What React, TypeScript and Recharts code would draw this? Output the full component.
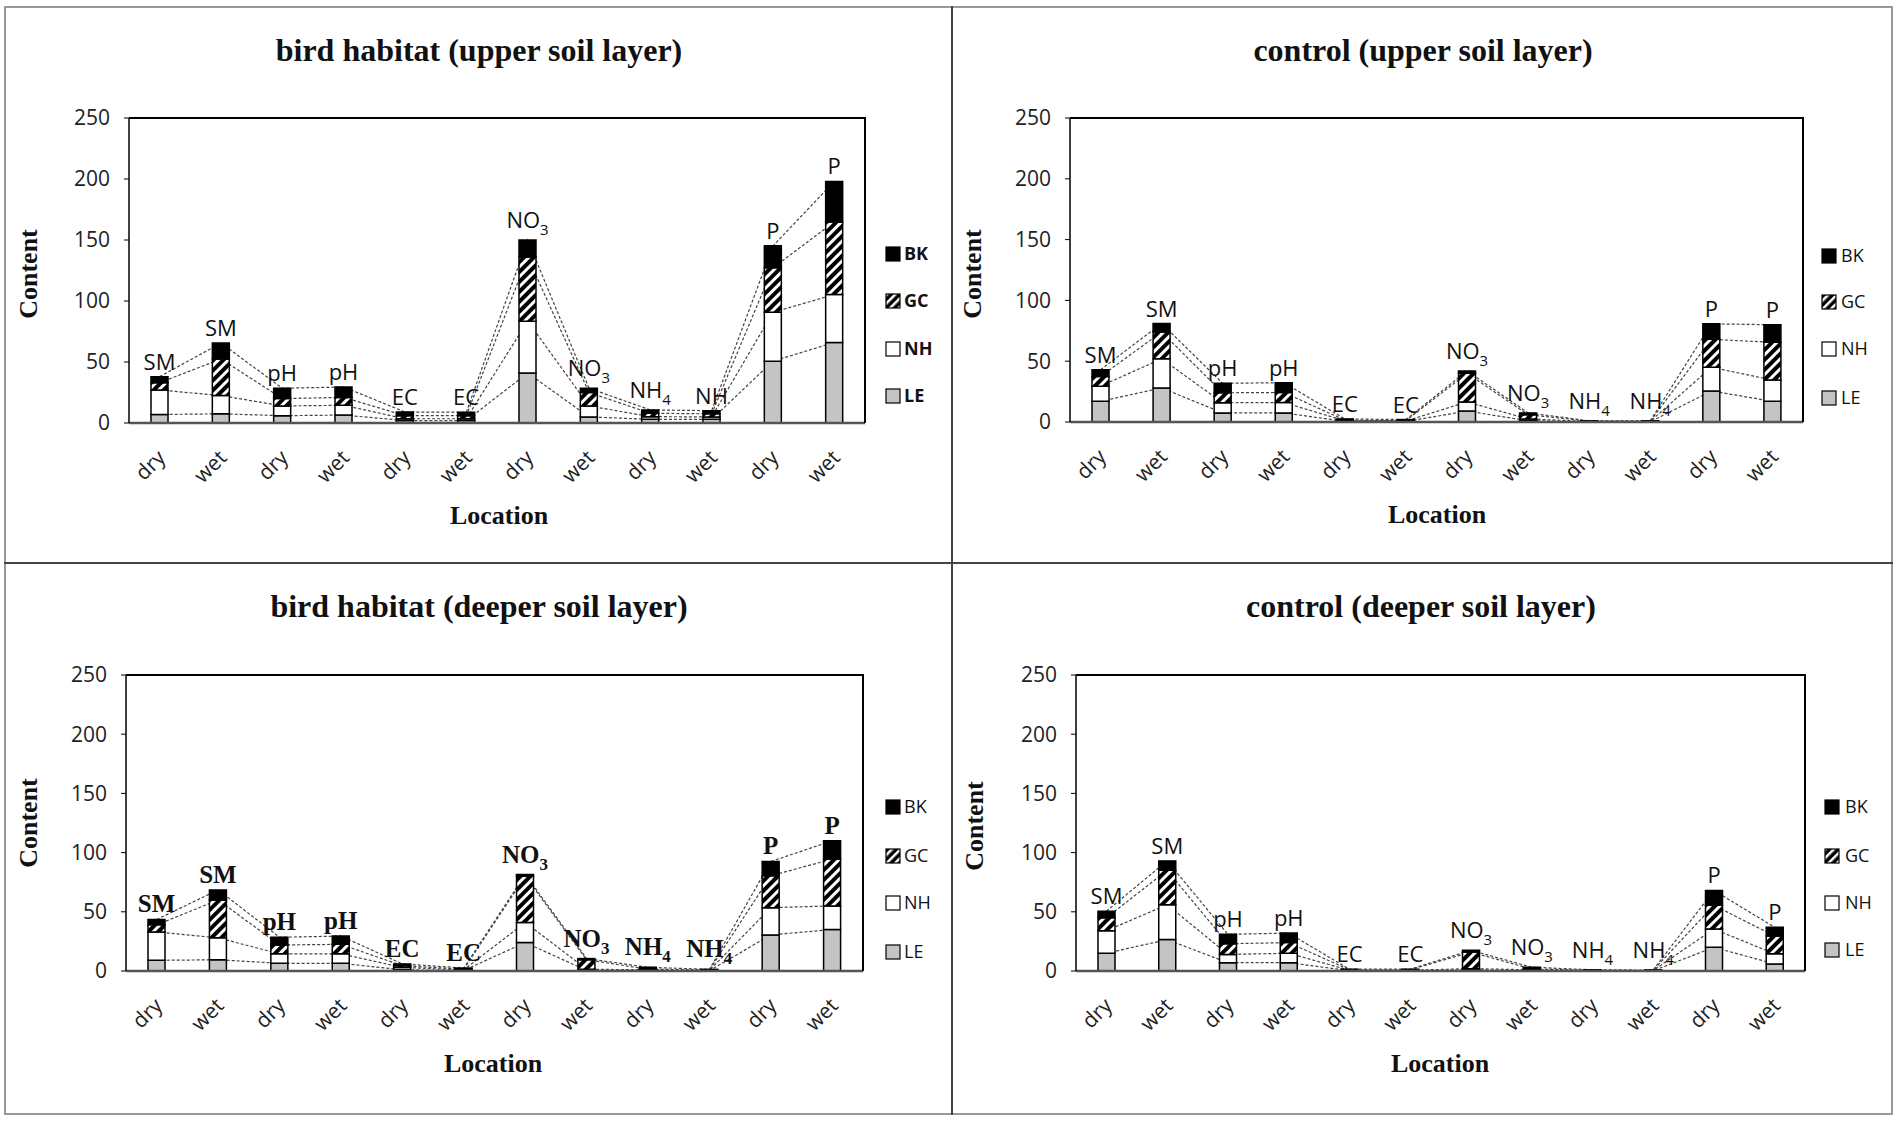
import React from 'react';
import { ComposedChart, Bar, Line, XAxis, YAxis, LabelList } from 'recharts';

// categories along the x axis
const conditions = ['dry', 'wet', 'dry', 'wet', 'dry', 'wet', 'dry', 'wet', 'dry', 'wet', 'dry', 'wet'];
const yTicks = [0, 50, 100, 150, 200, 250];
const seriesNames = ['BK', 'GC', 'NH', 'LE'];

// bird habitat (upper soil layer)
const labelsBU = ['SM', 'SM', 'pH', 'pH', 'EC', 'EC', 'NO3', 'NO3', 'NH4', 'NH', 'P', 'P'];
const leBU = [7, 7.5, 6, 6.5, 2, 2, 41, 5, 3, 3, 50.7, 66];
const nhBU = [20, 15, 8, 8, 1.5, 1.5, 42.5, 9, 2.2, 2, 40, 39.3];
const gcBU = [6, 30, 6, 6.5, 2.5, 2.5, 52.5, 11, 2.8, 2.5, 36.5, 59.5];
const bkBU = [5, 13, 8.5, 8.5, 3, 2.8, 14, 3.5, 2.7, 2.6, 18, 33.2];

// control (upper soil layer)
const labelsCU = ['SM', 'SM', 'pH', 'pH', 'EC', 'EC', 'NO3', 'NO3', 'NH4', 'NH4', 'P', 'P'];
const leCU = [17, 28, 7.5, 7.5, 0.5, 0.4, 9, 1, 0.2, 0.2, 25.5, 17];
const nhCU = [12.5, 24, 8.3, 8.5, 0.5, 0.4, 7.5, 1.5, 0.3, 0.3, 19.5, 17.5];
const gcCU = [8, 22, 8.2, 8.3, 0.5, 0.4, 23.5, 3.5, 0.2, 0.2, 23, 31];
const bkCU = [5.5, 7, 7.8, 8, 1, 0.8, 2, 1.5, 0.3, 0.3, 12.7, 14.5];

// bird habitat (deeper soil layer)
const labelsBD = ['SM', 'SM', 'pH', 'pH', 'EC', 'EC', 'NO3', 'NO3', 'NH4', 'NH4', 'P', 'P'];
const leBD = [9, 9.5, 6.5, 6.5, 1, 0.5, 24, 0.5, 0.5, 0.3, 30.5, 35];
const nhBD = [24, 18.5, 8, 8, 2, 0.5, 17, 1, 0.5, 0.3, 23, 20];
const gcBD = [6, 32, 7.5, 8, 1.5, 0.5, 39, 8, 0.5, 0.3, 27, 39.5];
const bkBD = [4.5, 8.5, 6.5, 7, 1.5, 1, 1.5, 1, 1.6, 0.5, 12, 15.5];

// control (deeper soil layer)
const labelsCD = ['SM', 'SM', 'pH', 'pH', 'EC', 'EC', 'NO3', 'NO3', 'NH4', 'NH4', 'P', 'P'];
const leCD = [15, 26.5, 7, 7, 0.3, 0.3, 1, 0.5, 0.2, 0.2, 20, 6];
const nhCD = [19, 29.5, 7, 8, 0.3, 0.3, 1, 0.5, 0.2, 0.2, 15.5, 8.5];
const gcCD = [11, 29, 9, 9, 0.4, 0.4, 14, 0.7, 0.2, 0.2, 20, 15];
const bkCD = [5.5, 8, 8, 8, 0.5, 0.5, 1.5, 1.5, 0.4, 0.2, 12.5, 7.5];

const SERIF = '"Liberation Serif", "Times New Roman", serif';
const SANS = '"Open Sans", "Noto Sans", sans-serif';

const buildRows = (labels: string[], le: number[], nh: number[], gc: number[], bk: number[]) =>
  conditions.map((c, i) => ({ cat: c, label: labels[i], LE: le[i], NH: nh[i], GC: gc[i], BK: bk[i] }));

const fills: Record<string, string> = { BK: '#000', GC: 'url(#hatch)', NH: '#fff', LE: '#c4c4c4' };

const Hatch = () => (
  <defs>
    <pattern id="hatch" width="7" height="7" patternUnits="userSpaceOnUse" patternTransform="rotate(45)">
      <rect width="7" height="7" fill="#000" />
      <rect width="3" height="7" fill="#fff" />
    </pattern>
  </defs>
);

const XTick = (props: any) => {
  const { x, y, payload } = props;
  return (
    <g transform={`translate(${x + 7},${y + 36})`}>
      <text textAnchor="end" transform="rotate(-45)" fontSize={21} fontFamily={SANS} fill="#222">
        {payload.value}
      </text>
    </g>
  );
};

const makeTopLabel = (serif: boolean) => (props: any) => {
  const { x, y, width, value } = props;
  const m = String(value).match(/^(.*?)(\d)$/);
  const base = m ? m[1] : String(value);
  const sub = m ? m[2] : null;
  const fs = serif ? 25 : 22;
  return (
    <text
      x={x + width / 2}
      y={y - (sub ? 12 : 7)}
      textAnchor="middle"
      fontSize={fs}
      fontFamily={serif ? SERIF : SANS}
      fontWeight={serif ? 'bold' : 'normal'}
      fill="#111"
    >
      {base}
      {sub && (
        <tspan dy={7} fontSize={fs * 0.68}>
          {sub}
        </tspan>
      )}
    </text>
  );
};

interface PanelProps {
  left: number;
  top: number;
  width: number;
  height: number;
  margin: { top: number; right: number; bottom: number; left: number };
  rows: any[];
  serifLabels?: boolean;
}

const AXIS_W = 60;
const XAXIS_H = 40;

function Panel({ left, top, width, height, margin, rows, serifLabels }: PanelProps) {
  const cum = [
    (d: any) => d.LE,
    (d: any) => d.LE + d.NH,
    (d: any) => d.LE + d.NH + d.GC,
    (d: any) => d.LE + d.NH + d.GC + d.BK,
  ];
  const plotLeft = margin.left + AXIS_W;
  const plotW = width - plotLeft - margin.right;
  const plotH = height - margin.top - margin.bottom - XAXIS_H;
  return (
    <div style={{ position: 'absolute', left, top, width, height }}>
      <ComposedChart width={width} height={height} data={rows} margin={margin}>
        <Hatch />
        <XAxis
          dataKey="cat"
          tick={<XTick />}
          tickLine={false}
          tickSize={0}
          tickMargin={0}
          height={XAXIS_H}
          interval={0}
          axisLine={{ stroke: '#555', strokeWidth: 2.5 }}
        />
        <YAxis
          domain={[0, 250]}
          ticks={yTicks}
          width={AXIS_W}
          tickSize={5}
          tickMargin={14}
          interval={0}
          tick={{ fontSize: 21, fontFamily: SANS, fill: '#222' }}
          tickLine={{ stroke: '#000' }}
          axisLine={{ stroke: '#000', strokeWidth: 1.5 }}
        />
        {cum.map((fn, i) => (
          <Line
            key={'l' + i}
            dataKey={fn}
            type="linear"
            stroke="#444"
            strokeWidth={1.2}
            strokeDasharray="3 2"
            dot={false}
            activeDot={false}
            isAnimationActive={false}
            zIndex={250}
          />
        ))}
        {['LE', 'NH', 'GC', 'BK'].map((k) => (
          <Bar key={k} dataKey={k} stackId="a" barSize={17} fill={fills[k]} stroke="#000" strokeWidth={1.5} isAnimationActive={false}>
            {k === 'BK' && <LabelList dataKey="label" content={makeTopLabel(!!serifLabels)} />}
          </Bar>
        ))}
      </ComposedChart>
      {/* plot-area frame: top and right edges */}
      <div
        style={{
          position: 'absolute',
          left: plotLeft,
          top: margin.top - 1,
          width: plotW + 1,
          height: plotH + 1,
          borderTop: '2px solid #000',
          borderRight: '2px solid #000',
          boxSizing: 'border-box',
          pointerEvents: 'none',
        }}
      />
    </div>
  );
}

const Legend = ({ x, textX, ys, bold }: { x: number; textX: number; ys: number[]; bold: boolean }) => (
  <svg style={{ position: 'absolute', left: 0, top: 0, overflow: 'visible' }} width={1} height={1}>
    <defs>
      <pattern id="hatchL" width="6" height="6" patternUnits="userSpaceOnUse" patternTransform="rotate(45)">
        <rect width="6" height="6" fill="#000" />
        <rect width="2.5" height="6" fill="#fff" />
      </pattern>
    </defs>
    {seriesNames.map((n, i) => (
      <g key={n}>
        <rect
          x={x}
          y={ys[i] - 7}
          width={14}
          height={14}
          fill={n === 'GC' ? 'url(#hatchL)' : fills[n]}
          stroke="#000"
          strokeWidth={1.2}
        />
        <text x={textX} y={ys[i]} dy="0.35em" fontSize={18} fontFamily={SANS} fontWeight={bold ? 'bold' : 'normal'} fill="#111">
          {n}
        </text>
      </g>
    ))}
  </svg>
);

const Txt = ({ x, y, size, children, rotate }: any) => (
  <div
    style={{
      position: 'absolute',
      left: x,
      top: y,
      transform: `translate(-50%, -50%)${rotate ? ' rotate(-90deg)' : ''}`,
      fontFamily: SERIF,
      fontWeight: 'bold',
      fontSize: size,
      whiteSpace: 'nowrap',
      color: '#111',
      lineHeight: 1,
    }}
  >
    {children}
  </div>
);

export default function App() {
  return (
    <div style={{ position: 'absolute', left: 0, top: 0, width: 1901, height: 1121, background: '#fff', overflow: 'hidden' }}>
      <div style={{ position: 'absolute', left: 4, top: 6, width: 1889, height: 1109, border: '2px solid #999', boxSizing: 'border-box' }} />
      <div style={{ position: 'absolute', left: 951, top: 6, width: 2, height: 1109, background: '#444' }} />
      <div style={{ position: 'absolute', left: 4, top: 562, width: 1889, height: 2, background: '#444' }} />

      <Panel left={5} top={7} width={947} height={556} margin={{ top: 111, right: 87, bottom: 100, left: 64 }} rows={buildRows(labelsBU, leBU, nhBU, gcBU, bkBU)} />
      <Panel left={952} top={7} width={940} height={556} margin={{ top: 111, right: 89, bottom: 101, left: 58 }} rows={buildRows(labelsCU, leCU, nhCU, gcCU, bkCU)} />
      <Panel left={5} top={563} width={947} height={551} margin={{ top: 112, right: 89, bottom: 103, left: 61 }} rows={buildRows(labelsBD, leBD, nhBD, gcBD, bkBD)} serifLabels />
      <Panel left={952} top={563} width={940} height={551} margin={{ top: 112, right: 87, bottom: 103, left: 64 }} rows={buildRows(labelsCD, leCD, nhCD, gcCD, bkCD)} />

      <Txt x={479} y={50} size={32}>bird habitat (upper soil layer)</Txt>
      <Txt x={1423} y={50} size={32}>control (upper soil layer)</Txt>
      <Txt x={479} y={606} size={32}>bird habitat (deeper soil layer)</Txt>
      <Txt x={1421} y={606} size={32}>control (deeper soil layer)</Txt>

      <Txt x={29} y={274} size={26} rotate>Content</Txt>
      <Txt x={973} y={274} size={26} rotate>Content</Txt>
      <Txt x={29} y={823} size={26} rotate>Content</Txt>
      <Txt x={975} y={826} size={26} rotate>Content</Txt>

      <Txt x={499} y={516} size={26}>Location</Txt>
      <Txt x={1437} y={515} size={26}>Location</Txt>
      <Txt x={493} y={1064} size={26}>Location</Txt>
      <Txt x={1440} y={1064} size={26}>Location</Txt>

      <Legend x={886} textX={904} ys={[254, 301, 349, 396]} bold />
      <Legend x={1822} textX={1841} ys={[256, 302, 349, 398]} bold={false} />
      <Legend x={886} textX={904} ys={[807, 856, 903, 952]} bold={false} />
      <Legend x={1825} textX={1845} ys={[807, 856, 903, 950]} bold={false} />
    </div>
  );
}
